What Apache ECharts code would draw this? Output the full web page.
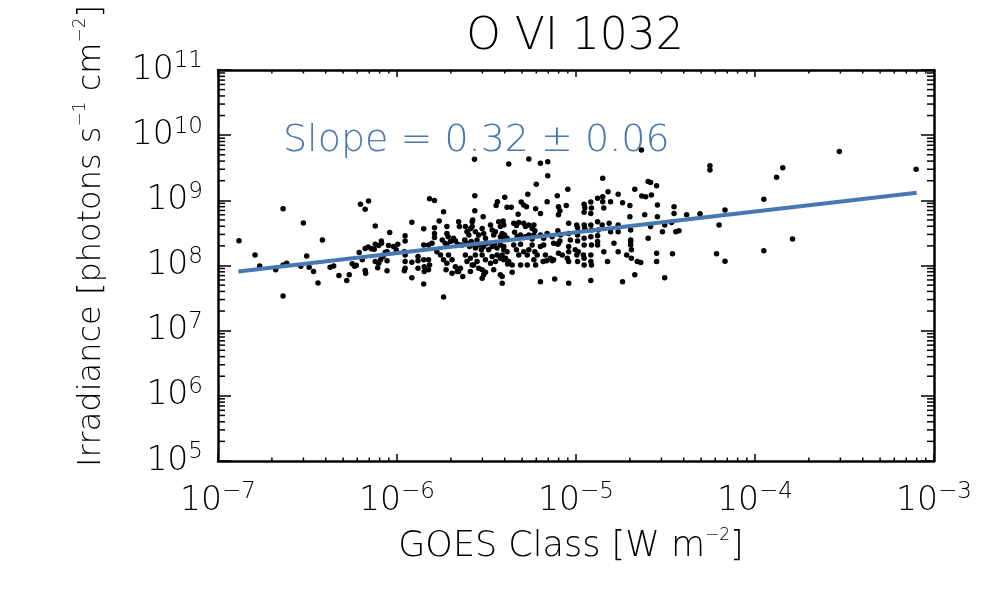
<!DOCTYPE html>
<html><head><meta charset="utf-8">
<script src="https://cdn.jsdelivr.net/npm/echarts@6/dist/echarts.min.js"></script>
<style>html,body{margin:0;padding:0;background:#fff}#c{width:1000px;height:600px}</style>
</head><body><div id="c"></div>
<script>
const FONT = 'DejaVu Sans';
const FW = 200;
const titleText = 'O VI 1032';
const slopeText = 'Slope = 0.32 ± 0.06';
const xTitle = 'GOES Class [W m{s|−2}]';
const yTitle = 'Irradiance [photons s{s|−1} cm{s|−2}]';
const xRange = [1e-7, 1e-3];
const yRange = [1e5, 1e11];
const fitLine = [[1.3e-7, 8.1e7], [8e-4, 1.31e9]];
const minorMantissas = [2, 3, 4, 5, 6, 7, 8, 9];
const xDecades = [1e-7, 1e-6, 1e-5, 1e-4];
const yDecades = [1e5, 1e6, 1e7, 1e8, 1e9, 1e10];
// [GOES flux (W m^-2), irradiance (photons s^-1 cm^-2)]
const flarePoints = [
[1.31e-7,2.4e8],[1.61e-7,1.45e8],[1.71e-7,9.8e7],[2.31e-7,7.4e8],[2.31e-7,3.4e7],[2.1e-7,8.6e7],
[2.31e-7,1.02e8],[2.42e-7,1.08e8],[2.9e-7,9.7e7],[3.0e-7,4.5e8],[3.13e-7,1.4e8],[3.23e-7,9.4e7],
[3.42e-7,8.1e7],[3.62e-7,5.4e7],[3.83e-7,2.47e8],[4.23e-7,9.4e7],[4.43e-7,9.8e7],[4.74e-7,7.05e7],
[5.24e-7,5.9e7],[5.41e-7,7.2e7],[5.62e-7,1.06e8],[5.8e-7,9.7e7],[5.92e-7,1.01e8],[6.15e-7,1.58e8],
[6.25e-7,8.7e8],[6.64e-7,7.3e8],[6.93e-7,9.8e8],[7.56e-7,4.05e8],[6.64e-7,1.83e8],[6.9e-7,1.93e8],
[7.2e-7,1.8e8],[7.46e-7,1.77e8],[6.64e-7,8.4e7],[6.68e-7,7.6e7],[6.4e-7,1.22e8],[7.8e-7,9.2e7],
[2.71e-6,4.27e9],[2.72e-6,1.18e9],[1.52e-6,1.06e9],[1.62e-6,9.9e8],[4.0e-6,1.12e9],[3.58e-6,8.3e8],
[3.64e-6,9.5e8],[2.72e-6,6.9e8],[1.82e-6,6.7e8],[3.03e-6,5.6e8],[1.21e-6,4.6e8],[1.72e-6,4.8e8],
[9.1e-7,3.2e8],[1.41e-6,3.65e8],[1.62e-6,3.8e8],[1.62e-6,3.1e8],[1.62e-6,2.68e8],[1.9e-6,3.95e8],
[1.9e-6,3.1e8],[1.93e-6,2.77e8],[2.21e-6,4.7e8],[2.23e-6,3.95e8],[2.41e-6,3.95e8],[2.46e-6,3.3e8],
[2.52e-6,2.95e8],[2.57e-6,3.65e8],[2.63e-6,4.7e8],[2.65e-6,5.0e8],[2.63e-6,3.95e8],[2.74e-6,3.3e8],
[2.86e-6,2.95e8],[2.8e-6,2.47e8],[2.99e-6,3.7e8],[3.05e-6,3.1e8],[3.12e-6,2.62e8],[3.33e-6,4.2e8],
[3.4e-6,3.5e8],[3.47e-6,2.95e8],[3.55e-6,3.3e8],[3.7e-6,4.7e8],[3.78e-6,3.95e8],[3.87e-6,3.1e8],
[3.95e-6,2.62e8],[1.11e-6,2.87e8],[1.11e-6,2.38e8],[8.17e-7,2.38e8],[8.2e-7,2.2e8],[7.56e-7,2.12e8],
[7.9e-7,2.02e8],[8.97e-7,2.02e8],[9.56e-7,1.95e8],[1.01e-6,2.12e8],[8.8e-7,1.63e8],[8.6e-7,1.6e8],
[1.41e-6,2.07e8],[1.5e-6,2.07e8],[1.57e-6,2.2e8],[1.79e-6,2.47e8],[1.86e-6,2.2e8],[1.9e-6,2.07e8],
[1.99e-6,2.33e8],[2.07e-6,2.62e8],[2.12e-6,2.38e8],[2.19e-6,2.12e8],[2.31e-6,2.07e8],[2.39e-6,2.47e8],
[2.46e-6,2.2e8],[2.54e-6,1.95e8],[2.6e-6,2.33e8],[2.68e-6,2.07e8],[2.74e-6,1.85e8],[2.86e-6,2.07e8],
[2.96e-6,1.74e8],[3.05e-6,1.95e8],[3.19e-6,2.2e8],[3.25e-6,1.74e8],[3.4e-6,1.95e8],[3.51e-6,2.2e8],
[3.62e-6,1.85e8],[3.78e-6,2.07e8],[3.95e-6,1.74e8],[7.56e-7,1.15e8],[7.9e-7,1.08e8],[8.1e-7,1.22e8],
[8.8e-7,8.3e7],[1.11e-6,1.45e8],[1.11e-6,1.15e8],[1.11e-6,9.1e7],[1.21e-6,1.12e8],[1.21e-6,6.5e7],
[1.31e-6,1.37e8],[1.31e-6,1.18e8],[1.31e-6,9.1e7],[1.41e-6,1.22e8],[1.42e-6,9.6e7],[1.42e-6,8.1e7],
[1.5e-6,1.22e8],[1.52e-6,1.02e8],[1.5e-6,8.6e7],[1.41e-6,5.2e7],[1.82e-6,3.3e7],[1.67e-6,1.63e8],
[1.75e-6,1.45e8],[1.82e-6,1.22e8],[1.9e-6,1.08e8],[1.88e-6,8.6e7],[1.94e-6,1.45e8],[2.03e-6,1.22e8],
[2.12e-6,9.6e7],[2.17e-6,8.1e7],[2.03e-6,7.6e7],[2.21e-6,8.1e7],[2.33e-6,6.75e7],[2.26e-6,9.1e7],
[2.41e-6,1.45e8],[2.46e-6,1.15e8],[2.57e-6,1.29e8],[2.63e-6,1.02e8],[2.74e-6,1.45e8],[2.8e-6,1.15e8],
[2.86e-6,9.1e7],[2.57e-6,8.1e7],[2.68e-6,1.02e8],[2.99e-6,1.45e8],[3.12e-6,1.22e8],[3.33e-6,1.08e8],
[3.4e-6,1.37e8],[3.55e-6,1.15e8],[3.62e-6,1.45e8],[3.78e-6,1.29e8],[3.95e-6,1.22e8],[2.99e-6,8.6e7],
[3.05e-6,7.2e7],[3.12e-6,7.9e7],[3.47e-6,8.6e7],[3.78e-6,7.2e7],[3.87e-6,5.35e7],[2.99e-6,6.4e7],
[1.10e-6,1.63e8],[1.10e-6,8.3e7],[8.8e-7,1.18e8],[8.35e-7,1.37e8],[9.9e-7,1.74e8],
[5.45e-6,4.3e9],[4.21e-6,3.6e9],[6.33e-6,3.7e9],[6.95e-6,3.9e9],[6.95e-6,2.39e9],[6.0e-6,1.77e9],
[9.0e-6,1.48e9],[1.41e-5,2.18e9],[5.38e-6,1.24e9],[7.86e-6,1.18e9],[6.9e-6,9.5e8],[4.94e-6,9.4e8],
[5.1e-6,8.5e8],[5.29e-6,8.0e8],[4.12e-6,7.8e8],[4.35e-6,7.8e8],[5.95e-6,7.4e8],[6.33e-6,6.3e8],
[7.98e-6,8.0e8],[8.13e-6,6.9e8],[7.98e-6,6.0e8],[8.82e-6,8.3e8],[1.11e-5,8.7e8],[1.12e-5,7.7e8],
[1.11e-5,6.55e8],[1.21e-5,9.4e8],[1.22e-5,7.6e8],[1.21e-5,6.3e8],[1.32e-5,1.08e9],[1.41e-5,1.14e9],
[1.41e-5,9.5e8],[1.43e-5,7.6e8],[1.51e-5,1.36e9],[1.56e-5,9.5e8],[1.72e-5,1.24e9],[1.82e-5,9.2e8],
[2.0e-5,8.3e8],[4.75e-6,6.1e8],[3.92e-6,4.8e8],[3.95e-6,4.2e8],[4.49e-6,4.45e8],[4.65e-6,4.1e8],
[4.79e-6,4.55e8],[5.1e-6,4.45e8],[5.22e-6,3.95e8],[5.45e-6,4.2e8],[5.69e-6,3.7e8],[5.82e-6,4.2e8],
[5.89e-6,3.4e8],[5.82e-6,2.95e8],[4.54e-6,3.24e8],[4.69e-6,2.77e8],[3.78e-6,2.77e8],[3.99e-6,2.95e8],
[4.12e-6,2.62e8],[4.9e-6,2.95e8],[5.22e-6,2.77e8],[5.45e-6,2.95e8],[5.69e-6,2.56e8],[6.33e-6,2.95e8],
[6.6e-6,2.62e8],[6.9e-6,3.1e8],[7.36e-6,2.77e8],[7.92e-6,3.4e8],[8.2e-6,2.95e8],[7.92e-6,2.12e8],
[8.13e-6,2.38e8],[9.1e-6,4.45e8],[9.1e-6,3.1e8],[9.3e-6,2.47e8],[9.1e-6,1.95e8],[9.1e-6,1.63e8],
[1.01e-5,4.2e8],[1.02e-5,3.8e8],[1.02e-5,2.95e8],[1.02e-5,2.38e8],[1.03e-5,1.63e8],[1.11e-5,4.2e8],
[1.12e-5,3.7e8],[1.11e-5,2.62e8],[1.11e-5,2.07e8],[1.1e-5,1.45e8],[1.21e-5,4.2e8],[1.22e-5,3.5e8],
[1.21e-5,2.77e8],[1.22e-5,2.07e8],[1.21e-5,1.45e8],[1.32e-5,4.7e8],[1.33e-5,3.5e8],[1.32e-5,2.87e8],
[1.32e-5,2.33e8],[1.32e-5,2.07e8],[1.4e-5,4.2e8],[1.53e-5,4.45e8],[1.56e-5,3.3e8],[1.63e-5,2.2e8],
[1.43e-5,1.63e8],[1.5e-5,1.15e8],[1.72e-5,4.2e8],[1.72e-5,3.3e8],[1.72e-5,1.63e8],[1.92e-5,1.45e8],
[2.0e-5,5.6e8],[2.02e-5,2.33e8],[3.95e-6,1.95e8],[4.12e-6,1.63e8],[3.87e-6,1.45e8],[4.04e-6,1.29e8],
[4.21e-6,1.15e8],[4.4e-6,1.02e8],[4.49e-6,2.07e8],[4.65e-6,1.74e8],[4.79e-6,1.45e8],[4.9e-6,2.12e8],
[5.1e-6,1.63e8],[5.34e-6,1.45e8],[5.45e-6,1.74e8],[5.69e-6,2.07e8],[5.89e-6,1.63e8],[5.82e-6,1.22e8],
[6.07e-6,1.45e8],[6.33e-6,1.95e8],[6.6e-6,2.07e8],[6.75e-6,1.45e8],[7.2e-6,1.29e8],[7.5e-6,1.22e8],
[7.5e-6,2.2e8],[7.98e-6,2.2e8],[7.98e-6,1.54e8],[8.38e-6,1.45e8],[8.94e-6,1.29e8],[9.1e-6,1.15e8],
[9.9e-6,1.74e8],[1.01e-5,1.45e8],[1.02e-5,1.15e8],[1.11e-5,1.29e8],[1.11e-5,1.02e8],[1.21e-5,1.15e8],
[1.22e-5,1.02e8],[3.87e-6,6.75e7],[4.15e-6,1.05e8],[4.4e-6,7.9e7],[4.9e-6,1.02e8],[5.34e-6,1.02e8],
[5.95e-6,1.02e8],[6.55e-6,1.15e8],[6.85e-6,1.18e8],[7.36e-6,1.18e8],[6.33e-6,5.65e7],[7.6e-6,6.2e7],
[9.1e-6,5.35e7],[1.21e-5,5.9e7],[1.82e-5,5.65e7],
[2.32e-5,5.9e9],[2.13e-5,1.48e9],[2.53e-5,1.94e9],[2.61e-5,1.87e9],[2.82e-5,1.68e9],[2.33e-5,1.17e9],
[2.45e-5,1.14e9],[2.64e-5,1.21e9],[2.85e-5,8.5e8],[2.42e-5,6.0e8],[2.85e-5,5.6e8],[3.53e-5,8.0e8],
[3.53e-5,6.3e8],[4.15e-5,6.0e8],[4.93e-5,6.2e8],[2.61e-5,3.95e8],[3.04e-5,3.3e8],[3.13e-5,4.2e8],
[2.53e-5,2.62e8],[2.02e-5,3.5e8],[2.02e-5,2.47e8],[2.02e-5,2.07e8],[2.04e-5,1.74e8],[2.04e-5,1.29e8],
[2.2e-5,1.15e8],[2.3e-5,1.11e8],[2.82e-5,1.54e8],[2.82e-5,1.15e8],[3.46e-5,1.51e8],[3.61e-5,3.3e8],
[3.76e-5,3.4e8],[2.13e-5,7.2e7],[3.13e-5,6.5e7],
[2.96e-4,5.6e9],[7.95e-4,3.0e9],[5.6e-5,3.4e9],[5.6e-5,2.93e9],[1.43e-4,3.17e9],[1.32e-4,2.26e9],
[1.12e-4,1.04e9],[6.8e-5,7.1e8],[3.42e-5,4.55e8],[6.3e-5,4.2e8],[1.62e-4,2.56e8],[6.1e-5,1.51e8],
[6.8e-5,1.16e8],[1.12e-4,1.69e8]
];

const BLUE = '#4878b2';
const minorTickItems = [];
xDecades.forEach(d => minorMantissas.forEach(m => minorTickItems.push([m * d, 1e8, 0])));
yDecades.forEach(d => minorMantissas.forEach(m => minorTickItems.push([1e-6, m * d, 1])));

function supLabel(v) {
  const e = Math.round(Math.log10(v));
  return '{a|10}{b|' + (e < 0 ? '−' + (-e) : String(e)) + '}';
}
const labelRich = {
  a: {fontSize: 33, fontFamily: FONT, fontWeight: FW, color: '#000', lineHeight: 40},
  b: {fontSize: 23, fontFamily: FONT, fontWeight: FW, color: '#000', lineHeight: 14, verticalAlign: 'top'}
};
const lineSty = {color: '#000', width: 2.5};
function xAx(pos, showLabel) {
  return {type: 'log', logBase: 10, min: xRange[0], max: xRange[1], position: pos,
    axisLine: {show: true, lineStyle: lineSty},
    axisTick: {show: true, inside: true, length: 7, lineStyle: {color: '#000', width: 1.5}},
    axisLabel: {show: showLabel, formatter: supLabel, margin: 20, rich: labelRich},
    splitLine: {show: false}};
}
function yAx(pos, showLabel) {
  return {type: 'log', logBase: 10, min: yRange[0], max: yRange[1], position: pos,
    axisLine: {show: true, lineStyle: lineSty},
    axisTick: {show: true, inside: true, length: 13, lineStyle: {color: '#000', width: 1.5}},
    axisLabel: {show: showLabel, formatter: supLabel, margin: 15, rich: labelRich},
    splitLine: {show: false}};
}
const supRich = {s: {fontSize: 17, fontFamily: FONT, fontWeight: FW, fill: '#000', lineHeight: 14, verticalAlign: 'top'}};

const chart = echarts.init(document.getElementById('c'), null, {renderer: 'canvas'});
chart.setOption({
  animation: false,
  backgroundColor: '#fff',
  grid: {left: 218, top: 70, width: 716, height: 391, containLabel: false},
  xAxis: [xAx('bottom', true), xAx('top', false)],
  yAxis: [yAx('left', true), yAx('right', false)],
  graphic: [
    {type: 'text', x: 575, y: 38, style: {text: titleText, fill: '#000', fontSize: 44, fontFamily: FONT, fontWeight: FW,
      align: 'center', verticalAlign: 'middle', textAlign: 'center', textVerticalAlign: 'middle'}},
    {type: 'text', x: 283, y: 141, z: 10, style: {text: slopeText, fill: BLUE, fontSize: 38, fontFamily: FONT, fontWeight: FW,
      align: 'left', verticalAlign: 'middle', textAlign: 'left', textVerticalAlign: 'middle'}},
    {type: 'text', x: 571, y: 547, style: {text: xTitle, fill: '#000', fontSize: 35, fontFamily: FONT, fontWeight: FW,
      align: 'center', verticalAlign: 'middle', textAlign: 'center', textVerticalAlign: 'middle', lineHeight: 40,
      rich: supRich}},
    {type: 'text', x: 92, y: 236, rotation: Math.PI / 2, style: {text: yTitle, fill: '#000', fontSize: 32, fontFamily: FONT, fontWeight: FW,
      align: 'center', verticalAlign: 'middle', textAlign: 'center', textVerticalAlign: 'middle', lineHeight: 40,
      rich: supRich}}
  ],
  series: [
    {type: 'custom', silent: true, xAxisIndex: 0, yAxisIndex: 0, data: minorTickItems, z: 3,
      encode: {x: 0, y: 1},
      renderItem: function (params, api) {
        const cs = params.coordSys;
        const p = api.coord([api.value(0), api.value(1)]);
        const st = {stroke: '#000', lineWidth: 1.5};
        if (api.value(2) === 0) {
          const x = p[0];
          return {type: 'group', children: [
            {type: 'line', shape: {x1: x, y1: cs.y + cs.height, x2: x, y2: cs.y + cs.height - 3.5}, style: st},
            {type: 'line', shape: {x1: x, y1: cs.y, x2: x, y2: cs.y + 3.5}, style: st}]};
        }
        const y = p[1];
        return {type: 'group', children: [
          {type: 'line', shape: {x1: cs.x, y1: y, x2: cs.x + 7, y2: y}, style: st},
          {type: 'line', shape: {x1: cs.x + cs.width, y1: y, x2: cs.x + cs.width - 7, y2: y}, style: st}]};
      }},
    {type: 'scatter', xAxisIndex: 0, yAxisIndex: 0, data: flarePoints, symbol: 'circle', symbolSize: 5.5,
      itemStyle: {color: '#000', opacity: 1}, z: 4, silent: true},
    {type: 'line', xAxisIndex: 0, yAxisIndex: 0, data: fitLine, showSymbol: false, symbol: 'none',
      lineStyle: {color: BLUE, width: 4}, z: 5, silent: true}
  ]
});
</script></body></html>
